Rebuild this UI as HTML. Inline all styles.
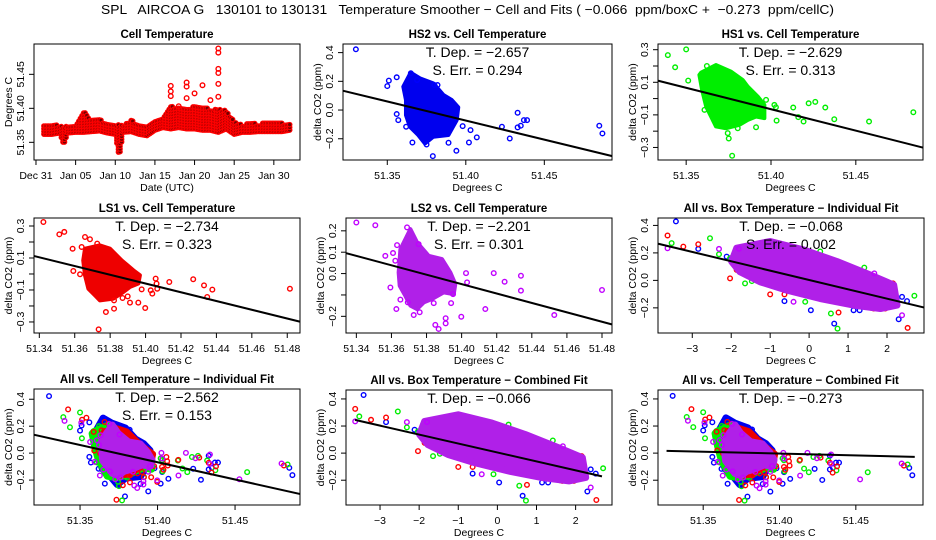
<!DOCTYPE html>
<html><head><meta charset="utf-8"><style>
html,body{margin:0;padding:0;background:#fff;}
svg{display:block;font-family:"Liberation Sans",sans-serif;}
</style></head>
<body>
<svg id="chart" xmlns="http://www.w3.org/2000/svg" width="936" height="540" viewBox="0 0 936 540">
<rect x="0" y="0" width="936" height="540" fill="#fff"/>
<text x="101" y="14" font-size="13.2" textLength="733" lengthAdjust="spacingAndGlyphs" xml:space="preserve">SPL   AIRCOA G   130101 to 130131   Temperature Smoother − Cell and Fits ( −0.066  ppm/boxC +  −0.273  ppm/cellC)</text>
</svg>
<script>
// ---------- Cell temperature time series (days since Dec 31) ----------
const cellDays = [1,2,3,3.5,4,5,6,7,8,9,10,10.5,11,12,13,14,15,16,17,18,19,20,21,22,23,24,25,26,27,28,29,30,31,32];
const cellLo = [51.362,51.362,51.364,51.347,51.364,51.365,51.365,51.366,51.367,51.364,51.362,51.329,51.365,51.366,51.362,51.360,51.368,51.372,51.370,51.372,51.370,51.370,51.368,51.368,51.365,51.370,51.362,51.365,51.365,51.366,51.366,51.366,51.366,51.368];
const cellHi = [51.374,51.376,51.374,51.372,51.375,51.376,51.396,51.382,51.384,51.376,51.376,51.375,51.375,51.382,51.376,51.372,51.382,51.386,51.402,51.402,51.398,51.403,51.402,51.398,51.398,51.397,51.380,51.375,51.378,51.377,51.378,51.380,51.378,51.377];
const spikeDays = [17,17,17,18,19,19,19,20,21,22,23,23,23,23,23,23];
const spikeVals = [51.433,51.425,51.418,51.403,51.438,51.432,51.415,51.422,51.434,51.412,51.488,51.482,51.458,51.452,51.436,51.417];
const dateTickDays = [0,5,10,15,20,25,30];
const dateTickLabels = ["Dec 31","Jan 05","Jan 10","Jan 15","Jan 20","Jan 25","Jan 30"];

// ---------- delta CO2 vs cell temperature: outliers [temp, dCO2] ----------
const hs2Pts = [[51.330,0.423],[51.350,0.167],[51.351,0.205],[51.356,0.228],[51.356,-0.028],[51.357,-0.07],[51.362,-0.116],[51.366,-0.226],[51.375,-0.24],[51.379,-0.321],[51.394,-0.284],[51.389,-0.228],[51.402,-0.226],[51.407,-0.19],[51.403,-0.14],[51.423,-0.116],[51.428,-0.198],[51.433,-0.019],[51.433,-0.121],[51.435,-0.109],[51.437,-0.07],[51.439,-0.07],[51.485,-0.109],[51.487,-0.163],[51.398,-0.112],[51.365,0.256],[51.369,0.209],[51.380,0.174],[51.382,0.174]];
const hs2Cloud = [[51.3649,0.26],[51.3708,0.221],[51.3793,0.186],[51.3857,0.105],[51.3910,0.07],[51.3952,0.019],[51.3942,-0.07],[51.3889,-0.174],[51.3793,-0.186],[51.3740,-0.233],[51.3697,-0.174],[51.3644,-0.116],[51.3619,-0.035],[51.3619,0.07],[51.3602,0.163]];
const hs1Pts = [[51.3392,0.267],[51.35,0.302],[51.3435,0.192],[51.3512,0.110],[51.3622,0.2],[51.3608,-0.069],[51.3745,-0.212],[51.3751,-0.245],[51.3771,-0.351],[51.3971,-0.008],[51.402,-0.039],[51.4029,-0.053],[51.4033,-0.135],[51.4131,-0.055],[51.4161,-0.114],[51.4192,-0.141],[51.4222,-0.029],[51.4261,-0.020],[51.432,-0.055],[51.4373,-0.127],[51.4578,-0.141],[51.4839,-0.084],[51.3912,-0.176],[51.3804,-0.182]];
const hs1Cloud = [[51.3588,0.159],[51.3676,0.206],[51.3765,0.165],[51.3833,0.114],[51.3863,0.073],[51.3922,0.012],[51.3961,-0.039],[51.3961,-0.120],[51.3912,-0.110],[51.3863,-0.131],[51.3814,-0.161],[51.3735,-0.182],[51.3676,-0.171],[51.3647,-0.110],[51.3618,-0.049],[51.3594,0.053],[51.3578,0.145]];
const ls1Pts = [[51.3423,0.325],[51.3513,0.248],[51.3541,0.263],[51.3588,0.158],[51.3592,0.019],[51.3630,-0.002],[51.3658,0.231],[51.3639,0.169],[51.3686,0.217],[51.3727,0.19],[51.3776,-0.238],[51.3735,-0.346],[51.3822,-0.165],[51.3822,-0.217],[51.3870,-0.15],[51.3899,-0.14],[51.3912,-0.179],[51.3959,-0.179],[51.3998,-0.213],[51.4029,-0.102],[51.4038,-0.123],[51.4057,-0.029],[51.4062,-0.06],[51.4066,-0.092],[51.4134,-0.05],[51.4269,-0.033],[51.4330,-0.071],[51.4348,-0.144],[51.4377,-0.098],[51.4815,-0.092],[51.3978,-0.096]];
const ls1Cloud = [[51.3658,0.158],[51.3742,0.179],[51.3799,0.158],[51.3865,0.085],[51.3931,0.023],[51.3968,-0.008],[51.3959,-0.06],[51.3912,-0.081],[51.3874,-0.113],[51.3818,-0.154],[51.3742,-0.165],[51.3714,-0.133],[51.3677,-0.092],[51.3658,-0.008],[51.3648,0.085]];
const ls2Pts = [[51.34,0.239],[51.3508,0.226],[51.3565,0.083],[51.3594,-0.065],[51.3609,0.096],[51.3622,0.06],[51.3628,-0.166],[51.3632,0.133],[51.3651,-0.122],[51.3693,-0.135],[51.3727,-0.194],[51.3761,-0.181],[51.3689,0.216],[51.3755,0.138],[51.3841,-0.138],[51.385,-0.240],[51.3869,-0.259],[51.3909,-0.209],[51.3909,-0.233],[51.3940,-0.138],[51.3951,-0.096],[51.3998,-0.202],[51.4025,0.002],[51.4031,-0.041],[51.4135,-0.166],[51.4183,0.002],[51.4245,-0.038],[51.4338,-0.01],[51.4338,-0.080],[51.4528,-0.194],[51.48,-0.077]];
const ls2Cloud = [[51.3651,0.114],[51.3708,0.208],[51.3746,0.146],[51.3812,0.083],[51.3888,0.068],[51.3936,0.005],[51.3964,-0.049],[51.3955,-0.096],[51.3898,-0.088],[51.3831,-0.119],[51.3784,-0.135],[51.3746,-0.166],[51.3708,-0.150],[51.3679,-0.104],[51.3647,-0.057],[51.3641,0.005],[51.3647,0.068]];

// ---------- delta CO2 vs box temperature: [boxTempAnomaly, dCO2] ----------
const boxHs2 = [[-3.42,0.429],[-2.846,0.229],[-2.117,0.173],[-0.633,-0.151],[0.045,-0.217],[0.645,-0.315],[1.142,-0.217],[1.297,-0.217],[2.386,-0.12],[2.514,-0.151],[2.3,-0.283],[0.11,0.173],[-0.98,0.246],[1.8,-0.06]];
const boxHs1 = [[-3.53,0.271],[-2.545,0.307],[-2.314,0.19],[-1.645,-0.022],[-1.47,-0.005],[-0.1,-0.156],[0.56,-0.241],[0.73,-0.351],[1.417,0.093],[2.19,-0.12],[2.703,-0.112],[0.285,0.21],[-0.53,0.178],[-1.1,0.19],[-2.03,0.161],[-1.7,0.1],[1.0,0.05],[1.5,-0.15]];
const boxLs1 = [[-3.635,0.327],[-3.23,0.246],[-2.846,0.263],[-2.03,0.015],[-1.86,0.076],[-1.0,-0.102],[-0.633,-0.102],[0.756,-0.234],[0.756,-0.151],[0.928,0.1],[1.657,-0.205],[1.957,-0.205],[2.154,-0.022],[2.17,-0.071],[2.53,-0.346],[0.39,0.149],[-0.916,0.246],[-1.34,0.234],[-1.69,0.185],[1.2,-0.15],[1.8,-0.18],[-1.5,0.17],[0.2,0.16],[-1.2,0.12],[-0.4,0.15],[0.6,0.12],[1.6,-0.2]];
const boxLs2 = [[-3.635,0.234],[-2.314,0.229],[-0.40,-0.156],[2.386,-0.254],[1.674,0.051],[-1.8,0.23]];
const boxCloud = [[-1.859,0.234],[-1.002,0.283],[-0.144,0.222],[0.714,0.137],[1.571,0.039],[2.172,-0.034],[2.257,-0.180],[1.829,-0.205],[1.142,-0.180],[0.285,-0.132],[-0.573,-0.071],[-1.259,-0.01],[-1.774,0.063],[-1.988,0.137]];

// ---------- fit results ----------
const fitLabels = ["−2.657","−2.629","−2.734","−2.201","−0.068","−2.562","−0.066","−0.273"];
const errLabels = ["0.294","0.313","0.323","0.301","0.002","0.153"];
const fitSlopes = [-2.657,-2.629,-2.734,-2.201,-0.068,-2.562,-0.066,-0.273];
const fitIntercepts = [0.0064,0.0135,0.0223,0.0167,0.003,0.0092,0.005,0.005];
const fitX0 = [51.37,51.37,51.37,51.37,0,51.37,0,51.37];

const cellTicks = [51.35,51.40,51.45];
const cellTicks2 = [51.34,51.36,51.38,51.40,51.42,51.44,51.46,51.48];
const boxTicks = [-3,-2,-1,0,1,2];

const NS = "http://www.w3.org/2000/svg";
const svg = document.getElementById("chart");
function mk(tag, parent){ const e=document.createElementNS(NS,tag); parent.appendChild(e); return e; }

const COL = {hs2:"#0000ff", hs1:"#00ee00", ls1:"#ff0000", ls2:"#c000ff"};
const CLOUD = {hs2:"#0000ee", hs1:"#00ee00", ls1:"#ee0000", ls2:"#b020e8"};

function panel(cfg){
  const g = mk("g", svg);
  
  
  const [x0,x1,y0,y1] = cfg.box;
  const sx = v => x0 + (v-cfg.xr[0])/(cfg.xr[1]-cfg.xr[0])*(x1-x0);
  const sy = v => y1 - (v-cfg.yr[0])/(cfg.yr[1]-cfg.yr[0])*(y1-y0);
  const cid = "clip-"+cfg.name;
  const cp = mk("clipPath", g); cp.setAttribute("id", cid);
  const cr = mk("rect", cp); cr.setAttribute("x",x0); cr.setAttribute("y",y0); cr.setAttribute("width",x1-x0); cr.setAttribute("height",y1-y0);
  const plot = mk("g", g);
  
  
  const bx = mk("rect", g);
  
  
  bx.setAttribute("x",x0); bx.setAttribute("y",y0); bx.setAttribute("width",x1-x0); bx.setAttribute("height",y1-y0);
  bx.setAttribute("fill","none"); bx.setAttribute("stroke","#000"); bx.setAttribute("stroke-width","1");
  cfg.xticks.forEach((v,i)=>{
    const x = sx(v);
    const t = mk("line", g);
    
    
    t.setAttribute("x1",x); t.setAttribute("x2",x); t.setAttribute("y1",y1); t.setAttribute("y2",y1+5); t.setAttribute("stroke","#000");
    const lb = mk("text", g);
    
    
    lb.setAttribute("x",x); lb.setAttribute("y",y1+19); lb.setAttribute("font-size","10.5"); lb.setAttribute("text-anchor","middle");
    lb.textContent = cfg.xlabels[i];
  });
  cfg.yticks.forEach((v,i)=>{
    const y = sy(v);
    const t = mk("line", g);
    
    
    t.setAttribute("x1",x0); t.setAttribute("x2",x0-5); t.setAttribute("y1",y); t.setAttribute("y2",y); t.setAttribute("stroke","#000");
    if (cfg.ylabels[i] !== "") {
      const lb = mk("text", g);
      
      
      const lx = x0-10;
      lb.setAttribute("x",lx); lb.setAttribute("y",y); lb.setAttribute("font-size","10.5"); lb.setAttribute("text-anchor","middle");
      lb.setAttribute("transform","rotate(-90 "+lx+" "+y+")");
      lb.textContent = cfg.ylabels[i];
    }
  });
  const tt = mk("text", g);
  
  
  tt.setAttribute("x",(x0+x1)/2); tt.setAttribute("y",y0-6); tt.setAttribute("font-size","11.5"); tt.setAttribute("font-weight","bold"); tt.setAttribute("text-anchor","middle");
  tt.textContent = cfg.title;
  const xt = mk("text", g);
  
  
  xt.setAttribute("x",(x0+x1)/2); xt.setAttribute("y",y1+31); xt.setAttribute("font-size","10.5"); xt.setAttribute("text-anchor","middle");
  xt.textContent = cfg.xtitle;
  const yt = mk("text", g);
  
  
  const ytx = x0-22, yty=(y0+y1)/2;
  yt.setAttribute("x",ytx); yt.setAttribute("y",yty); yt.setAttribute("font-size","10.5"); yt.setAttribute("text-anchor","middle");
  yt.setAttribute("transform","rotate(-90 "+ytx+" "+yty+")");
  yt.textContent = cfg.ytitle;
  return {g, plot, sx, sy, cid, box:cfg.box};
}

function cloud(P, pts, color, name, sw){
  const pg = mk("polygon", P.plot);
  
  
  pg.setAttribute("points", pts.map(p=>P.sx(p[0])+","+P.sy(p[1])).join(" "));
  pg.setAttribute("fill", color); pg.setAttribute("stroke", color); pg.setAttribute("stroke-width", sw || "4"); pg.setAttribute("stroke-linejoin","round");
}
function points(P, pts, color, name){
  pts.forEach(p=>{
    const c = mk("circle", P.plot);
    
    
    c.setAttribute("cx",P.sx(p[0])); c.setAttribute("cy",P.sy(p[1])); c.setAttribute("r","2.3");
    c.setAttribute("fill","none"); c.setAttribute("stroke",color); c.setAttribute("stroke-width","1.4");
  });
}
function fitLine(P, k, xa, xb, clip){
  const f = x => fitIntercepts[k] + fitSlopes[k]*(x - fitX0[k]);
  const l = mk("line", P.plot);
  
  
  l.setAttribute("x1",P.sx(xa)); l.setAttribute("y1",P.sy(f(xa))); l.setAttribute("x2",P.sx(xb)); l.setAttribute("y2",P.sy(f(xb)));
  l.setAttribute("stroke","#000"); l.setAttribute("stroke-width","2");
  if (clip) l.setAttribute("clip-path","url(#"+P.cid+")");
}
function stats(P, k, e){
  const [x0,x1,y0] = P.box;
  const a = mk("text", P.g);
  
  
  a.setAttribute("x",(x0+x1)/2); a.setAttribute("y",y0+13); a.setAttribute("font-size","14"); a.setAttribute("text-anchor","middle");
  a.textContent = "T. Dep. =  " + fitLabels[k];
  if (e !== null) {
    const b = mk("text", P.g);
    
    
    b.setAttribute("x",(x0+x1)/2); b.setAttribute("y",y0+31); b.setAttribute("font-size","14"); b.setAttribute("text-anchor","middle");
    b.textContent = "S. Err. =  " + errLabels[e];
  }
}
const fmt2 = v => v.toFixed(2);
const cellLab = cellTicks.map(fmt2);
const yt4 = [-0.2,0,0.2,0.4], yt4l = ["−0.2","0.0","0.2","0.4"];
const yt7 = [-0.3,-0.2,-0.1,0,0.1,0.2,0.3], yt7l = ["−0.3","","−0.1","","0.1","","0.3"];
const YT = "delta CO2 (ppm)";

(function(){
  const P = panel({name:"panel-cell-temperature", box:[34,300,44,160], xr:[-0.25,33.3], yr:[51.324,51.4946],
    xticks:dateTickDays, xlabels:dateTickLabels, yticks:cellTicks, ylabels:cellLab,
    title:"Cell Temperature", xtitle:"Date (UTC)", ytitle:"Degrees C"});
  const interp = (arr,t)=>{ for(let i=0;i<cellDays.length-1;i++){ if(t<=cellDays[i+1]){ const f=(t-cellDays[i])/(cellDays[i+1]-cellDays[i]); return arr[i]+f*(arr[i+1]-arr[i]); } } return arr[arr.length-1]; };
  for (let t=cellDays[0]; t<=cellDays[cellDays.length-1]+0.001; t+=0.2){
    const lo = interp(cellLo,t), hi = interp(cellHi,t);
    for (let v=lo; v<=hi+0.0005; v+=0.004){
      const c = mk("circle", P.plot);
      
      
      c.setAttribute("cx",P.sx(t)); c.setAttribute("cy",P.sy(v)); c.setAttribute("r","2.2");
      c.setAttribute("fill","#700000"); c.setAttribute("stroke","#ff0000"); c.setAttribute("stroke-width","1.2");
    }
  }
  points(P, spikeDays.map((d,i)=>[d,spikeVals[i]]), "#ff0000", "cell-temp-spike");
})();

(function(){
  const P = panel({name:"panel-hs2-vs-cell", box:[343,612,44,160], xr:[51.3218,51.4931], yr:[-0.348,0.46],
    xticks:cellTicks, xlabels:cellLab, yticks:yt4, ylabels:yt4l, title:"HS2 vs. Cell Temperature", xtitle:"Degrees C", ytitle:YT});
  cloud(P, hs2Cloud, CLOUD.hs2, "hs2-cloud"); points(P, hs2Pts, COL.hs2, "hs2-point");
  fitLine(P, 0, 51.3, 51.5, true); stats(P, 0, 0);
})();
(function(){
  const P = panel({name:"panel-hs1-vs-cell", box:[658,923,44,160], xr:[51.3334,51.4896], yr:[-0.377,0.335],
    xticks:cellTicks, xlabels:cellLab, yticks:yt7, ylabels:yt7l, title:"HS1 vs. Cell Temperature", xtitle:"Degrees C", ytitle:YT});
  cloud(P, hs1Cloud, CLOUD.hs1, "hs1-cloud"); points(P, hs1Pts, COL.hs1, "hs1-point");
  fitLine(P, 1, 51.3, 51.5, true); stats(P, 1, 1);
})();
(function(){
  const P = panel({name:"panel-ls1-vs-cell", box:[34,300,218,333], xr:[51.337,51.4872], yr:[-0.369,0.35],
    xticks:cellTicks2, xlabels:cellTicks2.map(fmt2), yticks:yt7, ylabels:yt7l, title:"LS1 vs. Cell Temperature", xtitle:"Degrees C", ytitle:YT});
  cloud(P, ls1Cloud, CLOUD.ls1, "ls1-cloud"); points(P, ls1Pts, COL.ls1, "ls1-point");
  fitLine(P, 2, 51.3, 51.5, true); stats(P, 2, 2);
})();
(function(){
  const P = panel({name:"panel-ls2-vs-cell", box:[346,612,218,333], xr:[51.3341,51.4857], yr:[-0.278,0.26],
    xticks:cellTicks2, xlabels:cellTicks2.map(fmt2), yticks:[-0.2,-0.1,0,0.1,0.2], ylabels:["−0.2","","0.0","0.1","0.2"],
    title:"LS2 vs. Cell Temperature", xtitle:"Degrees C", ytitle:YT});
  cloud(P, ls2Cloud, CLOUD.ls2, "ls2-cloud"); points(P, ls2Pts, COL.ls2, "ls2-point");
  fitLine(P, 3, 51.3, 51.5, true); stats(P, 3, 3);
})();
function boxData(P){
  points(P, boxHs2, COL.hs2, "hs2-point");
  points(P, boxHs1, COL.hs1, "hs1-point");
  points(P, boxLs1, COL.ls1, "ls1-point");
  cloud(P, boxCloud, CLOUD.ls2, "combined-cloud", "7");
  points(P, boxLs2, COL.ls2, "ls2-point");
}
function cellData(P){
  cloud(P, hs2Cloud, CLOUD.hs2, "hs2-cloud", "7"); points(P, hs2Pts, COL.hs2, "hs2-point");
  cloud(P, hs1Cloud, CLOUD.hs1, "hs1-cloud", "7"); points(P, hs1Pts, COL.hs1, "hs1-point");
  cloud(P, ls1Cloud, CLOUD.ls1, "ls1-cloud", "7"); points(P, ls1Pts, COL.ls1, "ls1-point");
  cloud(P, ls2Cloud, CLOUD.ls2, "ls2-cloud", "7"); points(P, ls2Pts, COL.ls2, "ls2-point");
}
(function(){
  const P = panel({name:"panel-all-vs-box-individual", box:[658,924,218,333], xr:[-3.88,2.95], yr:[-0.383,0.454],
    xticks:boxTicks, xlabels:boxTicks.map(v=>v<0?"−"+(-v):""+v), yticks:yt4, ylabels:yt4l,
    title:"All vs. Box Temperature − Individual Fit", xtitle:"Degrees C", ytitle:YT});
  boxData(P); fitLine(P, 4, -4, 3, true); stats(P, 4, 4);
})();
(function(){
  const P = panel({name:"panel-all-vs-cell-individual", box:[34,300,389,505], xr:[51.3203,51.4919], yr:[-0.385,0.476],
    xticks:cellTicks, xlabels:cellLab, yticks:yt4, ylabels:yt4l,
    title:"All vs. Cell Temperature − Individual Fit", xtitle:"Degrees C", ytitle:YT});
  cellData(P); fitLine(P, 5, 51.3, 51.5, true); stats(P, 5, 5);
})();
(function(){
  const P = panel({name:"panel-all-vs-box-combined", box:[346,612,390,505], xr:[-3.87,2.93], yr:[-0.383,0.466],
    xticks:boxTicks, xlabels:boxTicks.map(v=>v<0?"−"+(-v):""+v), yticks:yt4, ylabels:yt4l,
    title:"All vs. Box Temperature − Combined Fit", xtitle:"Degrees C", ytitle:YT});
  boxData(P); fitLine(P, 6, -3.64, 2.674, false); stats(P, 6, null);
})();
(function(){
  const P = panel({name:"panel-all-vs-cell-combined", box:[658,923,390,505], xr:[51.3204,51.4940], yr:[-0.383,0.466],
    xticks:cellTicks, xlabels:cellLab, yticks:yt4, ylabels:yt4l,
    title:"All vs. Cell Temperature − Combined Fit", xtitle:"Degrees C", ytitle:YT});
  cellData(P); fitLine(P, 7, 51.326, 51.4886, false); stats(P, 7, null);
})();
</script>
</body></html>
